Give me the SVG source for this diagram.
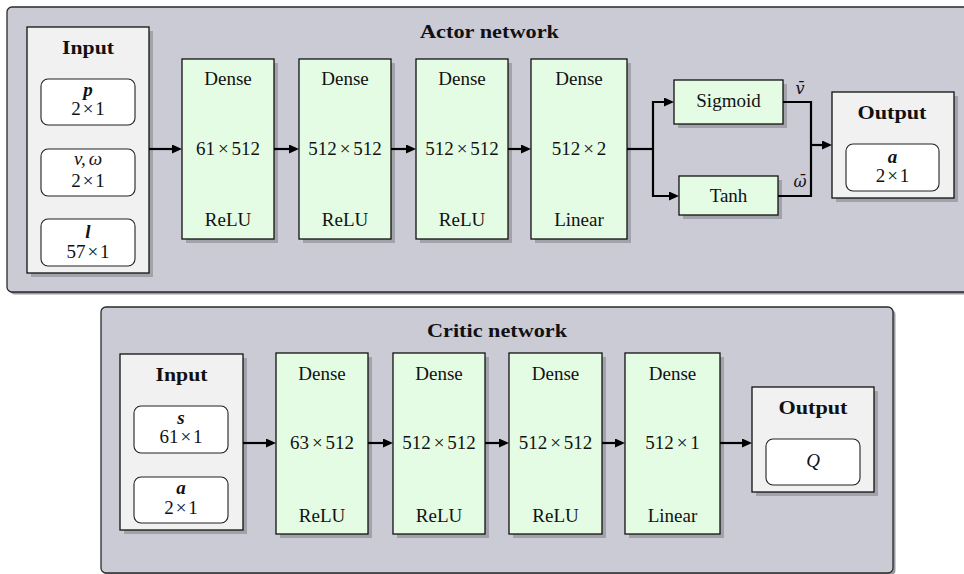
<svg xmlns="http://www.w3.org/2000/svg" width="964" height="574" viewBox="0 0 964 574">
  <style>
    .t { font-family: "Liberation Serif", "DejaVu Serif", serif; font-size: 19px; text-anchor: middle; fill: #111; }
    .b { font-weight: bold; }
    .m { font-style: italic; }
    .bm { font-weight: bold; font-style: italic; }
    .dv { font-family: "DejaVu Serif", "Liberation Serif", serif; font-size: 16px; }
    .panel { fill: #cbcbd6; stroke: #2a2a2a; stroke-width: 1.3; }
    .pshadow { fill: #9a9aa2; }
    .shadow { fill: #a2a2aa; }
    .io { fill: #f1f1f1; stroke: #111; stroke-width: 1.3; }
    .layer { fill: #e4fce4; stroke: #111; stroke-width: 1.3; }
    .slot { fill: #fff; stroke: #222; stroke-width: 1.1; }
    .wire { fill: none; stroke: #000; stroke-width: 2.2; stroke-linejoin: miter; }
    .arrow { marker-end: url(#head); }
  </style>
  <defs>
    <marker id="head" markerUnits="userSpaceOnUse" markerWidth="12" markerHeight="10" refX="5" refY="4.5" orient="auto">
      <path d="M0,0 L10,4.5 L0,9 Z" fill="#000"/>
    </marker>
  </defs>

  <!-- ============ Actor network ============ -->
  <g id="actor-panel">
    <rect class="pshadow" x="9.5" y="9.5" width="962" height="285" rx="5"/>
    <rect class="panel" x="7" y="7" width="962" height="285" rx="5"/>
    <text class="t b" x="489.5" y="38" textLength="139" lengthAdjust="spacingAndGlyphs">Actor network</text>
  </g>

  <g id="actor-input">
    <rect class="shadow" x="31" y="31" width="122" height="246"/>
    <rect class="io" x="27" y="27" width="122" height="246"/>
    <text class="t b" x="88" y="54" textLength="52" lengthAdjust="spacingAndGlyphs">Input</text>
    <rect class="slot" x="41" y="79" width="94" height="46" rx="7"/>
    <text class="t bm" x="88" y="96">p</text>
    <text class="t" x="88" y="115">2<tspan dx="2">×</tspan><tspan dx="2">1</tspan></text>
    <rect class="slot" x="41" y="149" width="94" height="47" rx="7"/>
    <text class="t m" x="88" y="165">v,<tspan dx="3">ω</tspan></text>
    <text class="t" x="88" y="187">2<tspan dx="2">×</tspan><tspan dx="2">1</tspan></text>
    <rect class="slot" x="41" y="219" width="94" height="47" rx="7"/>
    <text class="t bm" x="88" y="238">l</text>
    <text class="t" x="88" y="258">57<tspan dx="2">×</tspan><tspan dx="2">1</tspan></text>
  </g>

  <g id="actor-dense1">
    <rect class="shadow" x="186" y="63" width="92" height="180"/>
    <rect class="layer" x="182" y="59" width="92" height="180"/>
    <text class="t" x="228" y="85">Dense</text>
    <text class="t" x="228" y="155">61<tspan dx="3">×</tspan><tspan dx="3">512</tspan></text>
    <text class="t" x="228" y="226">ReLU</text>
  </g>

  <g id="actor-dense2">
    <rect class="shadow" x="303" y="63" width="92" height="180"/>
    <rect class="layer" x="299" y="59" width="92" height="180"/>
    <text class="t" x="345" y="85">Dense</text>
    <text class="t" x="345" y="155">512<tspan dx="3">×</tspan><tspan dx="3">512</tspan></text>
    <text class="t" x="345" y="226">ReLU</text>
  </g>

  <g id="actor-dense3">
    <rect class="shadow" x="420" y="63" width="92" height="180"/>
    <rect class="layer" x="416" y="59" width="92" height="180"/>
    <text class="t" x="462" y="85">Dense</text>
    <text class="t" x="462" y="155">512<tspan dx="3">×</tspan><tspan dx="3">512</tspan></text>
    <text class="t" x="462" y="226">ReLU</text>
  </g>

  <g id="actor-dense4">
    <rect class="shadow" x="535" y="63" width="96" height="180"/>
    <rect class="layer" x="531" y="59" width="96" height="180"/>
    <text class="t" x="579" y="85">Dense</text>
    <text class="t" x="579" y="155">512<tspan dx="3">×</tspan><tspan dx="3">2</tspan></text>
    <text class="t" x="579" y="226">Linear</text>
  </g>

  <g id="actor-sigmoid">
    <rect class="shadow" x="678" y="84" width="109" height="44"/>
    <rect class="layer" x="674" y="80" width="109" height="44"/>
    <text class="t" x="728.5" y="107">Sigmoid</text>
  </g>

  <g id="actor-tanh">
    <rect class="shadow" x="683" y="180" width="99" height="39"/>
    <rect class="layer" x="679" y="176" width="99" height="39"/>
    <text class="t" x="728.5" y="202">Tanh</text>
  </g>

  <g id="actor-output">
    <rect class="shadow" x="836" y="96" width="122" height="106"/>
    <rect class="io" x="832" y="92" width="122" height="106"/>
    <text class="t b" x="892" y="119" textLength="69" lengthAdjust="spacingAndGlyphs">Output</text>
    <rect class="slot" x="846" y="144" width="93" height="47" rx="7"/>
    <text class="t bm" x="892.5" y="163">a</text>
    <text class="t" x="892.5" y="182">2<tspan dx="2">×</tspan><tspan dx="2">1</tspan></text>
  </g>

  <!-- ============ Critic network ============ -->
  <g id="critic-panel">
    <rect class="pshadow" x="103.5" y="309.5" width="792" height="266" rx="5"/>
    <rect class="panel" x="101" y="307" width="792" height="266" rx="5"/>
    <text class="t b" x="497" y="337" textLength="140" lengthAdjust="spacingAndGlyphs">Critic network</text>
  </g>

  <g id="critic-input">
    <rect class="shadow" x="124" y="358" width="123" height="176"/>
    <rect class="io" x="120" y="354" width="123" height="176"/>
    <text class="t b" x="181.5" y="381" textLength="52" lengthAdjust="spacingAndGlyphs">Input</text>
    <rect class="slot" x="134" y="406" width="94" height="47" rx="7"/>
    <text class="t bm" x="181" y="424">s</text>
    <text class="t" x="181" y="443">61<tspan dx="2">×</tspan><tspan dx="2">1</tspan></text>
    <rect class="slot" x="134" y="477" width="94" height="46" rx="7"/>
    <text class="t bm" x="181" y="494">a</text>
    <text class="t" x="181" y="514">2<tspan dx="2">×</tspan><tspan dx="2">1</tspan></text>
  </g>

  <g id="critic-dense1">
    <rect class="shadow" x="280" y="357" width="92" height="181"/>
    <rect class="layer" x="276" y="353" width="92" height="181"/>
    <text class="t" x="322" y="380">Dense</text>
    <text class="t" x="322" y="449">63<tspan dx="3">×</tspan><tspan dx="3">512</tspan></text>
    <text class="t" x="322" y="522">ReLU</text>
  </g>

  <g id="critic-dense2">
    <rect class="shadow" x="397" y="357" width="92" height="181"/>
    <rect class="layer" x="393" y="353" width="92" height="181"/>
    <text class="t" x="439" y="380">Dense</text>
    <text class="t" x="439" y="449">512<tspan dx="3">×</tspan><tspan dx="3">512</tspan></text>
    <text class="t" x="439" y="522">ReLU</text>
  </g>

  <g id="critic-dense3">
    <rect class="shadow" x="513" y="357" width="93" height="181"/>
    <rect class="layer" x="509" y="353" width="93" height="181"/>
    <text class="t" x="555.5" y="380">Dense</text>
    <text class="t" x="555.5" y="449">512<tspan dx="3">×</tspan><tspan dx="3">512</tspan></text>
    <text class="t" x="555.5" y="522">ReLU</text>
  </g>

  <g id="critic-dense4">
    <rect class="shadow" x="629" y="357" width="95" height="181"/>
    <rect class="layer" x="625" y="353" width="95" height="181"/>
    <text class="t" x="672.5" y="380">Dense</text>
    <text class="t" x="672.5" y="449">512<tspan dx="3">×</tspan><tspan dx="3">1</tspan></text>
    <text class="t" x="672.5" y="522">Linear</text>
  </g>

  <g id="critic-output">
    <rect class="shadow" x="756" y="391" width="122" height="105"/>
    <rect class="io" x="752" y="387" width="122" height="105"/>
    <text class="t b" x="813" y="414" textLength="69" lengthAdjust="spacingAndGlyphs">Output</text>
    <rect class="slot" x="766" y="439" width="94" height="46" rx="7"/>
    <text class="t m" x="813" y="467">Q</text>
  </g>

  <!-- ============ Connectors ============ -->
  <g id="connectors">
    <path class="wire arrow" d="M149,149 H177"/>
    <path class="wire arrow" d="M274,149 H294"/>
    <path class="wire arrow" d="M391,149 H411"/>
    <path class="wire arrow" d="M508,149 H526"/>
    <path class="wire" d="M627,149 H653"/>
    <path class="wire arrow" d="M653,149 V102 H669"/>
    <path class="wire arrow" d="M653,149 V196 H674"/>
    <path class="wire" d="M783,102 H811 V196 H778"/>
    <path class="wire arrow" d="M811,145 H827"/>
    <text class="t m dv" x="800" y="94">v̄</text>
    <text class="t m dv" x="800" y="187">ω̄</text>

    <path class="wire arrow" d="M243,443 H271"/>
    <path class="wire arrow" d="M368,443 H388"/>
    <path class="wire arrow" d="M485,443 H504"/>
    <path class="wire arrow" d="M602,443 H620"/>
    <path class="wire arrow" d="M720,443 H747"/>
  </g>
</svg>
